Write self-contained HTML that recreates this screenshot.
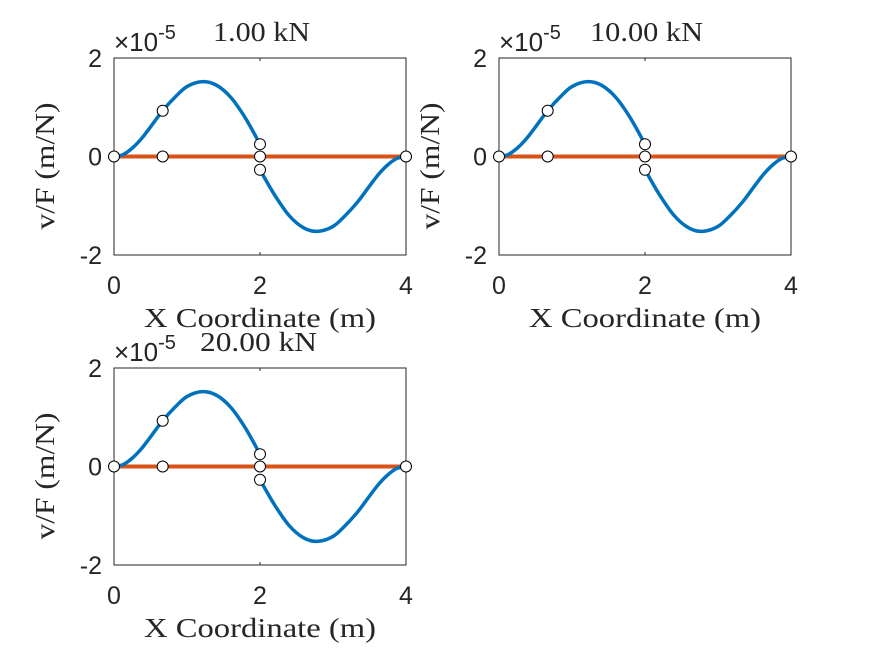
<!DOCTYPE html>
<html><head><meta charset="utf-8"><style>
body{margin:0;background:#fff}
svg text{fill:#262626}
</style></head><body>
<svg id="fig" width="875" height="656" xmlns="http://www.w3.org/2000/svg"></svg>
<script>
const titles=["1.00 kN","10.00 kN","20.00 kN"];
const leftX=[0,0.125,0.25,0.375,0.5,0.667,0.833,1.0,1.21,1.4,1.6,1.8,2.0];
const leftV=[0,0.04,0.17,0.36,0.6,0.93,1.2,1.42,1.52,1.45,1.2,0.78,0.25];
const rightX=[2.0,2.2,2.4,2.6,2.79,3.0,3.167,3.333,3.5,3.625,3.75,3.875,4.0];
const rightV=[-0.27,-0.78,-1.2,-1.45,-1.52,-1.42,-1.2,-0.93,-0.6,-0.36,-0.17,-0.04,0];
const markX=[0,0.667,0.667,2,2,2,4];
const markV=[0,0.93,0,0.25,0,-0.27,0];
const xTicks=[0,2,4];
const yTicks=[-2,0,2];
const boxes=[[114,58],[499,58],[114,368]];
const W=292,H=197;
const NS="http://www.w3.org/2000/svg";
const svg=document.getElementById('fig');
function mk(t,a,p){const e=document.createElementNS(NS,t);for(const k in a)e.setAttribute(k,a[k]);(p||svg).appendChild(e);return e;}
function smooth(pts){let d=`M${pts[0][0]},${pts[0][1]}`;for(let i=0;i<pts.length-1;i++){const p0=pts[Math.max(0,i-1)],p1=pts[i],p2=pts[i+1],p3=pts[Math.min(pts.length-1,i+2)];const c1=[p1[0]+(p2[0]-p0[0])/6,p1[1]+(p2[1]-p0[1])/6],c2=[p2[0]-(p3[0]-p1[0])/6,p2[1]-(p3[1]-p1[1])/6];d+=` C${c1[0]},${c1[1]} ${c2[0]},${c2[1]} ${p2[0]},${p2[1]}`;}return d;}
const titleX=[213,590,200];
const titleLen=[97,113,117];
boxes.forEach((b,i)=>{
  const [x0,y0]=b;
  const sx=v=>x0+v/4*W, sy=v=>y0+H-(v+2)/4*H;
  const g=mk('g',{});
  
  
  const r=mk('rect',{x:x0,y:y0,width:W,height:H,fill:'#fff',stroke:'#262626','stroke-width':1},g);
  
  
  xTicks.forEach(t=>{
    mk('line',{x1:sx(t),x2:sx(t),y1:y0+H,y2:y0+H-3,stroke:'#262626'},g);
    mk('line',{x1:sx(t),x2:sx(t),y1:y0,y2:y0+3,stroke:'#262626'},g);
    const tx=mk('text',{x:sx(t),y:y0+H+39,'text-anchor':'middle','font-family':'Liberation Sans, sans-serif','font-size':25},g);tx.textContent=t;
    
    
  });
  yTicks.forEach(t=>{
    mk('line',{x1:x0,x2:x0+3,y1:sy(t),y2:sy(t),stroke:'#262626'},g);
    mk('line',{x1:x0+W,x2:x0+W-3,y1:sy(t),y2:sy(t),stroke:'#262626'},g);
    const tx=mk('text',{x:x0-12,y:sy(t)+9,'text-anchor':'end','font-family':'Liberation Sans, sans-serif','font-size':25},g);tx.textContent=t;
    
    
  });
  const ol=mk('line',{x1:sx(0),x2:sx(4),y1:sy(0),y2:sy(0),stroke:'#d95319','stroke-width':4},g);
  
  
  const p1=mk('path',{d:smooth(leftX.map((x,j)=>[sx(x),sy(leftV[j])])),fill:'none',stroke:'#0072bd','stroke-width':3.5},g);
  
  
  const p2=mk('path',{d:smooth(rightX.map((x,j)=>[sx(x),sy(rightV[j])])),fill:'none',stroke:'#0072bd','stroke-width':3.5},g);
  
  
  markX.forEach((x,j)=>{
    const c=mk('circle',{cx:sx(x),cy:sy(markV[j]),r:5.5,fill:'#fff',stroke:'#000','stroke-width':1},g);
    
    
  });
  const ex=mk('text',{x:x0,y:y0-7,'font-family':'Liberation Sans, sans-serif','font-size':26},g);
  ex.innerHTML='×10<tspan dy="-12" font-size="20">-5</tspan>';
  
  
  const ti=mk('text',{x:titleX[i],y:y0-17,'font-family':'Liberation Serif, serif','font-size':27,'fill':'#000',textLength:titleLen[i],lengthAdjust:'spacingAndGlyphs'},g);ti.textContent=titles[i];
  
  
  const xl=mk('text',{x:x0+W/2-116,y:y0+H+72,'font-family':'Liberation Serif, serif','font-size':27,textLength:232,lengthAdjust:'spacingAndGlyphs'},g);xl.textContent='X Coordinate (m)';
  
  
  const yl=mk('text',{x:-63,y:0,'font-family':'Liberation Serif, serif','font-size':27,textLength:127,lengthAdjust:'spacingAndGlyphs',transform:`translate(${x0-60},${y0+H/2+10}) rotate(-90)`},g);yl.textContent='v/F (m/N)';
  
  
});
</script>
</body></html>
